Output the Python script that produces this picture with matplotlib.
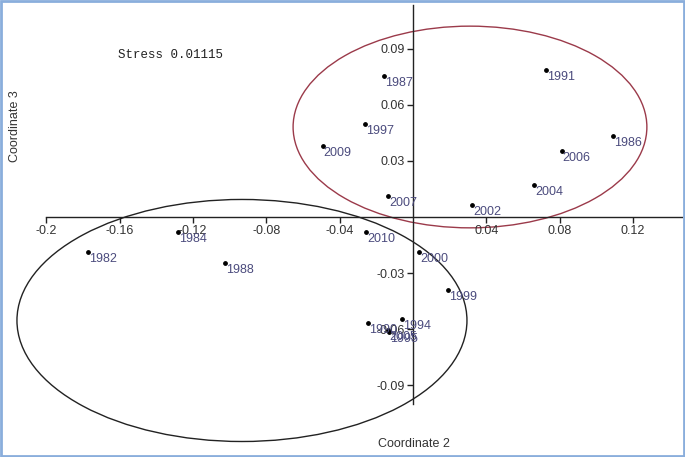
import numpy as np
import matplotlib.pyplot as plt
from matplotlib.patches import Ellipse, Rectangle

# MDS coordinates
years = ['1982', '1984', '1986', '1987', '1988', '1990', '1991', '1994', '1995',
         '1997', '1999', '2000', '2002', '2004', '2005', '2006', '2007', '2009', '2010']
coord2 = [-0.1775, -0.1284, 0.1093, -0.0158, -0.1024, -0.0246, 0.0726, -0.0060, -0.0131,
          -0.0264, 0.0189, 0.0033, 0.0324, 0.0660, -0.0136, 0.0811, -0.0135, -0.0493, -0.0256]
coord3 = [-0.0186, -0.0082, 0.0434, 0.0755, -0.0248, -0.0568, 0.0787, -0.0546, -0.0616,
          0.0497, -0.0389, -0.0187, 0.0066, 0.0171, -0.0605, 0.0355, 0.0112, 0.0379, -0.0080]

xticks = [-0.2, -0.16, -0.12, -0.08, -0.04, 0.04, 0.08, 0.12]
yticks = [-0.09, -0.06, -0.03, 0.03, 0.06, 0.09]
stress = 0.01115

fig = plt.figure(figsize=(6.85, 4.57), dpi=100)
ax = fig.add_axes([0, 0, 1, 1])
ax.set_xlim(-0.2253, 0.1484)
ax.set_ylim(-0.1285, 0.1162)

# axes crossing at the origin
ax.spines['left'].set_position(('data', 0))
ax.spines['bottom'].set_position(('data', 0))
ax.spines['right'].set_visible(False)
ax.spines['top'].set_visible(False)
ax.spines['bottom'].set_bounds(-0.2, 0.147)
ax.spines['left'].set_bounds(-0.1, 0.1135)
for s in ['left', 'bottom']:
    ax.spines[s].set_linewidth(1.0)
    ax.spines[s].set_color('#222222')

ax.set_xticks(xticks)
ax.set_xticklabels([f'{t:g}' for t in xticks])
ax.set_yticks(yticks)
ax.set_yticklabels([f'{t:g}' for t in yticks])
ax.tick_params(direction='out', length=4, width=1, color='#222222',
               labelsize=9, labelcolor='#333333', pad=2)
for lab in ax.get_xticklabels() + ax.get_yticklabels():
    lab.set_family('Liberation Sans')

# groups
ax.add_patch(Ellipse((0.0311, 0.0482), 0.193, 0.108, fill=False,
                     edgecolor='#9b3a4a', lw=1.0))
ax.add_patch(Ellipse((-0.0933, -0.0554), 0.2455, 0.1296, fill=False,
                     edgecolor='#222222', lw=1.0))

ax.scatter(coord2, coord3, s=6, color='black', zorder=3)
for yr, x, y in zip(years, coord2, coord3):
    ax.annotate(yr, (x, y), xytext=(1, -1), textcoords='offset pixels',
                ha='left', va='top', fontsize=9, color='#4b4b7d',
                family='Liberation Sans')

ax.text(-0.161, 0.0868, f'Stress {stress}', family='Liberation Mono',
        fontsize=9, color='#222222', va='center')
ax.text(0.0005, -0.1215, 'Coordinate 2', ha='center', va='center',
        fontsize=9, color='#333333', family='Liberation Sans')
ax.text(-0.2172, 0.0485, 'Coordinate 3', ha='center', va='center', rotation=90,
        fontsize=9, color='#333333', family='Liberation Sans')

# thin blue frame round the picture
fig.patches.append(Rectangle((0.002, 0.003), 0.996, 0.994, transform=fig.transFigure,
                             fill=False, edgecolor='#8aaedc', lw=2))

fig.savefig('out.png', dpi=100)
